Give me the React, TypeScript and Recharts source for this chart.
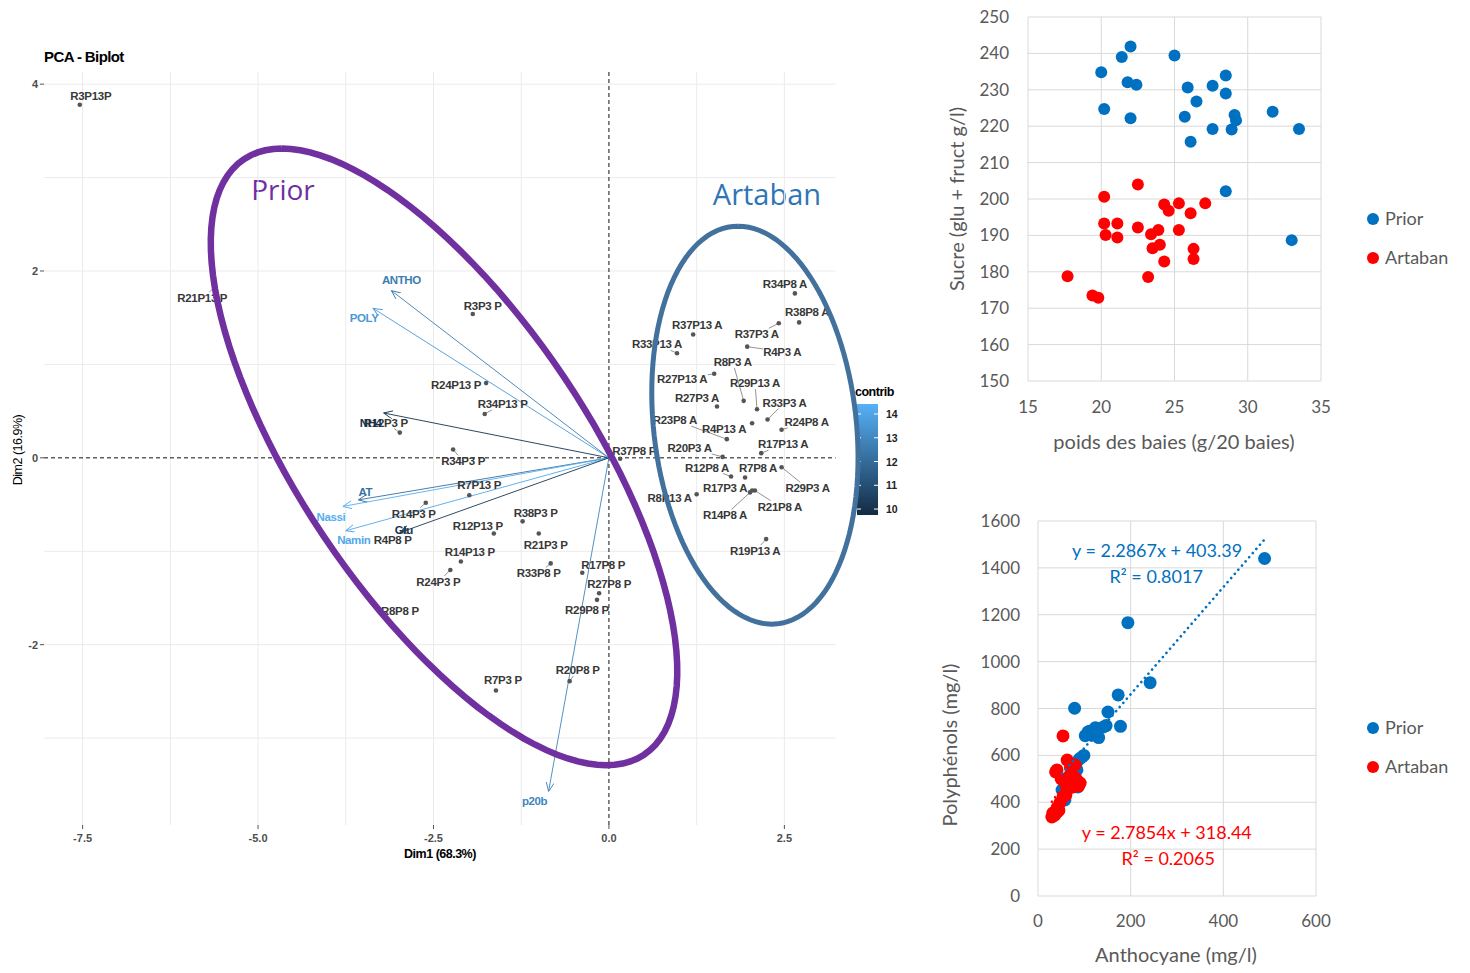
import {
  Legend,
  CartesianGrid,
  ReferenceDot,
  ReferenceLine,
  Scatter,
  ScatterChart,
  XAxis,
  YAxis,
} from 'recharts'

// ---------- PCA biplot ----------
const priorNames = [
  'R3P13P', 'R21P13 P', 'R3P3 P', 'R24P13 P', 'R34P13 P', 'R12P3 P', 'R34P3 P', 'R37P8 P',
  'R7P13 P', 'R14P3 P', 'R38P3 P', 'R12P13 P', 'R21P3 P', 'R4P8 P', 'R14P13 P', 'R24P3 P',
  'R33P8 P', 'R17P8 P', 'R27P8 P', 'R29P8 P', 'R8P8 P', 'R7P3 P', 'R20P8 P',
]
const priorDim1 = [
  -7.54, -5.61, -1.94, -1.75, -1.77, -2.98, -2.22, 0.16, -1.99, -2.61, -1.23, -1.64, -1.0, -2.91,
  -2.11, -2.26, -0.83, -0.38, -0.14, -0.17, -3.15, -1.61, -0.56,
]
const priorDim2 = [
  3.78, 1.83, 1.54, 0.8, 0.47, 0.27, 0.09, -0.01, -0.4, -0.48, -0.68, -0.81, -0.81, -0.77, -1.11,
  -1.2, -1.13, -1.23, -1.45, -1.52, -1.73, -2.49, -2.39,
]

const artabanNames = [
  'R34P8 A', 'R38P8 A', 'R37P3 A', 'R37P13 A', 'R33P13 A', 'R4P3 A', 'R8P3 A', 'R27P13 A',
  'R29P13 A', 'R27P3 A', 'R33P3 A', 'R23P8 A', 'R4P13 A', 'R24P8 A', 'R20P3 A', 'R17P13 A',
  'R12P8 A', 'R7P8 A', 'R17P3 A', 'R8P13 A', 'R29P3 A', 'R21P8 A', 'R14P8 A', 'R19P13 A',
]
const artabanDim1 = [
  2.65, 2.71, 2.42, 1.2, 0.97, 1.97, 1.92, 1.5, 2.11, 1.54, 2.26, 1.68, 2.04, 2.46, 1.62, 2.17,
  1.74, 1.94, 2.04, 1.25, 2.46, 2.08, 2.01, 2.24,
]
const artabanDim2 = [
  1.76, 1.45, 1.44, 1.32, 1.12, 1.19, 0.61, 0.9, 0.52, 0.55, 0.41, 0.2, 0.37, 0.3, 0.01, 0.05,
  -0.2, -0.21, -0.35, -0.39, -0.1, -0.35, -0.37, -0.87,
]

const varNames = ['ANTHO', 'POLY', 'NH4', 'AT', 'Nassi', 'Namin', 'Glu', 'p20b']
const varDim1 = [-3.1, -3.36, -3.21, -3.57, -3.79, -3.75, -2.98, -0.86]
const varDim2 = [1.79, 1.6, 0.48, -0.45, -0.52, -0.78, -0.8, -3.57]
const varContrib = [12.6, 13.6, 10.0, 12.2, 14.3, 14.1, 10.2, 12.9]

const dim1Ticks = [-7.5, -5, -2.5, 0, 2.5]
const dim2Ticks = [-2, 0, 2, 4]
const dim1Grid = [-7.5, -6.25, -5, -3.75, -2.5, -1.25, 1.25, 2.5]
const dim2Grid = [-3, -2, -1, 1, 2, 3, 4]
const contribTicks = [10, 11, 12, 13, 14]

// group ellipses: centre plus two conjugate half-axes, in Dim units
const priorEllipse = { cx: -2.35, cy: 0.01, ux: -2.31, uy: 3.3, vx: 2.39, vy: 0 }
const artabanEllipse = { cx: 2.08, cy: 0.35, ux: -0.24, uy: 2.13, vx: 1.45, vy: 0 }

// ---------- sucre vs poids ----------
const priorPoids = [
  20.0, 20.2, 21.4, 22.0, 21.8, 22.4, 22.0, 25.0, 25.9, 25.7, 26.5, 26.1, 27.6, 27.6, 28.5, 28.5,
  29.1, 29.2, 28.9, 31.7, 33.5, 28.5, 33.0,
]
const priorSucre = [
  234.8, 224.7, 239.0, 241.9, 232.1, 231.4, 222.2, 239.4, 230.6, 222.6, 226.8, 215.7, 231.1, 219.2,
  233.9, 229.0, 223.1, 221.6, 219.1, 224.0, 219.2, 202.1, 188.7,
]
const artabanPoids = [
  17.7, 19.4, 19.8, 20.2, 20.2, 20.3, 21.1, 21.1, 22.5, 22.5, 23.2, 23.4, 23.9, 23.5, 24.0, 24.3,
  24.3, 24.6, 25.3, 25.3, 26.1, 26.3, 26.3, 27.1,
]
const artabanSucre = [
  178.8, 173.5, 172.9, 200.6, 193.3, 190.1, 193.3, 189.4, 204.0, 192.2, 178.6, 190.3, 191.5, 186.5,
  187.4, 182.8, 198.5, 196.8, 198.8, 191.5, 196.1, 186.3, 183.5, 198.8,
]
const poidsTicks = [15, 20, 25, 30, 35]
const sucreTicks = [150, 160, 170, 180, 190, 200, 210, 220, 230, 240, 250]

// ---------- polyphénols vs anthocyanes ----------
const priorAntho = [
  489, 194, 242, 173, 151, 178, 79, 147, 102, 111, 124, 131, 117, 141, 99, 90, 84, 84, 86, 52, 58,
  95, 108,
]
const priorPoly = [
  1440, 1166, 910, 858, 785, 724, 801, 727, 684, 703, 718, 676, 686, 721, 600, 586, 572, 538, 465,
  452, 410, 593, 700,
]
const artabanAntho = [
  54, 63, 41, 80, 69, 84, 58, 76, 91, 63, 54, 47, 41, 32, 30, 45, 38, 50, 70, 88, 60, 36, 42, 80,
]
const artabanPoly = [
  683, 580, 538, 559, 516, 495, 486, 465, 482, 452, 422, 397, 376, 354, 337, 365, 530, 500, 548,
  470, 430, 345, 360, 505,
]
const anthoTicks = [0, 200, 400, 600]
const polyTicks = [0, 200, 400, 600, 800, 1000, 1200, 1400, 1600]
const priorFit = { slope: 2.2867, intercept: 403.39, r2: 0.8017 }
const artabanFit = { slope: 2.7854, intercept: 318.44, r2: 0.2065 }

// ---------- styling ----------
const ggFont = '"Liberation Sans", Arial, sans-serif'
const officeFont = 'Lato, "Open Sans", sans-serif'
const PRIOR_BLUE = '#0070C0'
const ARTABAN_RED = '#FF0000'
const OFFICE_GREY = '#595959'
const DIM1_MIN = -8.05
const DIM1_MAX = 3.72
const GRID_X_MAX = 3.23
const DIM2_MIN = -3.93
const DIM2_MAX = 4.13
const CONTRIB_MIN = 9.75
const CONTRIB_MAX = 14.42

// label nudges (px) relative to each point
const labelNudge: Record<string, [number, number]> = {
  R3P13P: [11, -9], 'R21P13 P': [-13, 11], 'R3P3 P': [10, -8], 'R24P13 P': [-30, 2],
  'R34P13 P': [18, -10], 'R12P3 P': [-14, -10], 'R34P3 P': [10, 12], 'R37P8 P': [14, -8],
  'R7P13 P': [10, -10], 'R14P3 P': [-12, 11], 'R38P3 P': [13, -8], 'R12P13 P': [-16, -8],
  'R21P3 P': [7, 11], 'R4P8 P': [-12, 10], 'R14P13 P': [9, -10], 'R24P3 P': [-12, 12],
  'R33P8 P': [-12, 10], 'R17P8 P': [21, -8], 'R27P8 P': [10, -9], 'R29P8 P': [-10, 10],
  'R8P8 P': [12, -8], 'R7P3 P': [7, -10], 'R20P8 P': [8, -11],
  'R34P8 A': [-10, -9], 'R38P8 A': [8, -10], 'R37P3 A': [-22, 11], 'R37P13 A': [4, -10],
  'R33P13 A': [-20, -9], 'R4P3 A': [35, 5], 'R8P3 A': [-11, -39], 'R27P13 A': [-32, 5],
  'R29P13 A': [-2, -26], 'R27P3 A': [-20, -8], 'R33P3 A': [17, -17], 'R23P8 A': [-52, -19],
  'R4P13 A': [-28, 6], 'R24P8 A': [25, -8], 'R20P3 A': [-33, -9], 'R17P13 A': [22, -9],
  'R12P8 A': [-24, -9], 'R7P8 A': [13, -9], 'R17P3 A': [-27, -3], 'R8P13 A': [-27, 4],
  'R29P3 A': [26, 21], 'R21P8 A': [25, 16], 'R14P8 A': [-25, 23], 'R19P13 A': [-11, 12],
  ANTHO: [10, -11], POLY: [-9, 10], NH4: [-13, 10], AT: [7, -8], Nassi: [-12, 11],
  Namin: [8, 9], Glu: [4, -3], p20b: [-14, 10],
}

const LOW = [19, 43, 67]
const HIGH = [86, 177, 247]
function contribColor(v: number) {
  const t = Math.min(1, Math.max(0, (v - CONTRIB_MIN) / (CONTRIB_MAX - CONTRIB_MIN)))
  const c = LOW.map((l, i) => Math.round(l + (HIGH[i] - l) * t))
  return `rgb(${c[0]},${c[1]},${c[2]})`
}

function ellipsePoints(e: typeof priorEllipse, steps = 120) {
  const pts = []
  for (let i = 0; i <= steps; i++) {
    const t = (i / steps) * Math.PI * 2
    pts.push({ x: e.cx + e.ux * Math.cos(t) + e.vx * Math.sin(t), y: e.cy + e.uy * Math.cos(t) + e.vy * Math.sin(t) })
  }
  return pts
}

function individual(p: any) {
  const { cx, cy, payload } = p
  const [dx, dy] = labelNudge[payload.name] ?? [0, -10]
  const hw = payload.name.length * 3.2
  const hh = 6
  const t = Math.min(1, hw / Math.max(Math.abs(dx), 0.01), hh / Math.max(Math.abs(dy), 0.01))
  const ex = cx + dx - dx * t
  const ey = cy + dy - dy * t
  const showLink = Math.hypot(ex - cx, ey - cy) > 6
  return (
    <g>
      {showLink && <line x1={cx} y1={cy} x2={ex} y2={ey} stroke="#777" strokeWidth={0.8} />}
      <circle cx={cx} cy={cy} r={2.3} fill="#555" />
      <text
        x={cx + dx}
        y={cy + dy}
        textAnchor="middle"
        dominantBaseline="central"
        fontFamily={ggFont}
        fontSize={11.5}
        fontWeight="bold"
        letterSpacing={-0.3}
        fill="#383838"
      >
        {payload.name}
      </text>
    </g>
  )
}

function variableLabel(p: any) {
  const { cx, cy, payload } = p
  const [dx, dy] = labelNudge[payload.name] ?? [0, -10]
  return (
    <text
      x={cx + dx}
      y={cy + dy}
      textAnchor="middle"
      dominantBaseline="central"
      fontFamily={ggFont}
      fontSize={11.5}
      fontWeight="bold"
      letterSpacing={-0.4}
      fill={payload.color}
    >
      {payload.name}
    </text>
  )
}

const noShape = () => <g />

function Biplot() {
  const prior = priorNames.map((name, i) => ({ name, x: priorDim1[i], y: priorDim2[i] }))
  const artaban = artabanNames.map((name, i) => ({ name, x: artabanDim1[i], y: artabanDim2[i] }))
  const vars = varNames.map((name, i) => ({
    name,
    x: varDim1[i],
    y: varDim2[i],
    color: contribColor(varContrib[i]),
  }))
  const tickStyle = { fontSize: 11, fontFamily: ggFont, fontWeight: 'bold', fill: '#4D4D4D' }

  return (
    <ScatterChart width={900} height={880} margin={{ top: 72, right: 30, bottom: 0, left: 0 }}>
      <defs>
        {vars.map((v) => (
          <marker
            key={v.name}
            id={`arrow-${v.name}`}
            markerWidth={11}
            markerHeight={9}
            refX={9}
            refY={4}
            orient="auto"
            markerUnits="userSpaceOnUse"
          >
            <path d="M0,0 L9,4 L0,8" fill="none" stroke={v.color} strokeWidth={0.9} />
          </marker>
        ))}
        <linearGradient id="contribBar" x1="0" y1="1" x2="0" y2="0">
          <stop offset="0" stopColor={contribColor(CONTRIB_MIN)} />
          <stop offset="1" stopColor={contribColor(CONTRIB_MAX)} />
        </linearGradient>
      </defs>
      <XAxis
        type="number"
        dataKey="x"
        domain={[DIM1_MIN, DIM1_MAX]}
        ticks={dim1Ticks}
        tickFormatter={(v: number) => v.toFixed(1)}
        height={55}
        axisLine={false}
        tickSize={4}
        tickMargin={5}
        tickLine={{ stroke: '#555' }}
        tick={tickStyle}
      />
      <YAxis
        type="number"
        dataKey="y"
        domain={[DIM2_MIN, DIM2_MAX]}
        ticks={dim2Ticks}
        width={44}
        axisLine={false}
        tickSize={4}
        tickMargin={2}
        tickLine={{ stroke: '#555' }}
        tick={tickStyle}
      />
      {dim1Grid.map((v) => (
        <ReferenceLine
          key={`gx${v}`}
          segment={[{ x: v, y: DIM2_MIN }, { x: v, y: DIM2_MAX }]}
          stroke="#EBEBEB"
          ifOverflow="visible"
        />
      ))}
      {dim2Grid.map((v) => (
        <ReferenceLine
          key={`gy${v}`}
          segment={[{ x: DIM1_MIN, y: v }, { x: GRID_X_MAX, y: v }]}
          stroke="#EBEBEB"
          ifOverflow="visible"
        />
      ))}
      <ReferenceLine
        segment={[{ x: DIM1_MIN, y: 0 }, { x: GRID_X_MAX, y: 0 }]}
        stroke="#111"
        strokeDasharray="4 3"
        ifOverflow="visible"
      />
      <ReferenceLine
        segment={[{ x: 0, y: DIM2_MIN }, { x: 0, y: DIM2_MAX }]}
        stroke="#111"
        strokeDasharray="4 3"
        ifOverflow="visible"
      />
      {vars.map((v) => (
        <ReferenceLine
          key={`arrow${v.name}`}
          segment={[{ x: 0, y: 0 }, { x: v.x, y: v.y }]}
          stroke={v.color}
          strokeWidth={0.9}
          markerEnd={`url(#arrow-${v.name})`}
          ifOverflow="visible"
        />
      ))}
      <Scatter name="Prior" data={prior} shape={individual} isAnimationActive={false} />
      <Scatter name="Artaban" data={artaban} shape={individual} isAnimationActive={false} />
      <Scatter name="variables" data={vars} shape={variableLabel} isAnimationActive={false} />
      <Scatter
        name="ellipse Prior"
        data={ellipsePoints(priorEllipse)}
        shape={noShape}
        line={{ stroke: '#7030A0', strokeWidth: 6.5 }}
        isAnimationActive={false}
      />
      <Scatter
        name="ellipse Artaban"
        data={ellipsePoints(artabanEllipse)}
        shape={noShape}
        line={{ stroke: '#41719C', strokeWidth: 5 }}
        isAnimationActive={false}
      />

      <text x={44} y={62} fontFamily={ggFont} fontSize={15} fontWeight="bold" letterSpacing={-0.6} fill="#000">
        PCA - Biplot
      </text>
      <text x={440} y={858} textAnchor="middle" fontFamily={ggFont} fontSize={12.5} fontWeight="bold" letterSpacing={-0.5} fill="#000">
        Dim1 (68.3%)
      </text>
      <text
        x={22}
        y={450}
        transform="rotate(-90 22 450)"
        textAnchor="middle"
        fontFamily={ggFont}
        fontSize={12.5}
        letterSpacing={-0.5}
        fill="#000"
      >
        Dim2 (16.9%)
      </text>
      <text x={283} y={200} textAnchor="middle" fontFamily='"Open Sans", sans-serif' fontSize={28} fill="#7030A0">
        Prior
      </text>
      <text x={767} y={205} textAnchor="middle" fontFamily='"Open Sans", sans-serif' fontSize={29} fill="#2E75B6">
        Artaban
      </text>

      <g>
        <text x={855} y={396} fontFamily={ggFont} fontSize={12.5} fontWeight="bold" letterSpacing={-0.5} fill="#000">
          contrib
        </text>
        <rect x={857} y={404} width={21} height={111} fill="url(#contribBar)" />
        {contribTicks.map((v) => {
          const y = 515 - ((v - CONTRIB_MIN) / (CONTRIB_MAX - CONTRIB_MIN)) * 111
          return (
            <g key={v}>
              <line x1={857} x2={861} y1={y} y2={y} stroke="#fff" />
              <line x1={874} x2={878} y1={y} y2={y} stroke="#fff" />
              <text x={886} y={y} dominantBaseline="central" fontFamily={ggFont} fontSize={10.5} fontWeight="bold" fill="#222">
                {v}
              </text>
            </g>
          )
        })}
      </g>
    </ScatterChart>
  )
}

// ---------- Excel style scatters ----------
const dot = (fill: string, r: number) => (p: any) => <circle cx={p.cx} cy={p.cy} r={r} fill={fill} />

const seriesLegend = () => (
  <div style={{ fontFamily: officeFont, fontSize: 18, color: OFFICE_GREY, lineHeight: '39px' }}>
    {[
      ['Prior', PRIOR_BLUE],
      ['Artaban', ARTABAN_RED],
    ].map(([label, color]) => (
      <div key={label} style={{ display: 'flex', alignItems: 'center' }}>
        <span
          style={{ width: 12, height: 12, borderRadius: 6, background: color, marginRight: 6, display: 'inline-block' }}
        />
        {label}
      </div>
    ))}
  </div>
)

const officeTick = { fill: OFFICE_GREY, fontSize: 17, fontFamily: officeFont }

// both office charts start 20px left of their y-axis titles
function SucreChart() {
  const prior = priorPoids.map((x, i) => ({ x, y: priorSucre[i] }))
  const artaban = artabanPoids.map((x, i) => ({ x, y: artabanSucre[i] }))
  return (
    <ScatterChart width={550} height={470} margin={{ top: 17, right: 149, bottom: 0, left: 0 }}>
      <CartesianGrid stroke="#D9D9D9" />
      <XAxis
        type="number"
        dataKey="x"
        domain={[15, 35]}
        ticks={poidsTicks}
        height={89}
        axisLine={false}
        tickLine={false}
        tickMargin={14}
        tick={officeTick}
      />
      <YAxis
        type="number"
        dataKey="y"
        domain={[150, 250]}
        ticks={sucreTicks}
        width={108}
        axisLine={false}
        tickLine={false}
        tickMargin={13}
        tick={officeTick}
      />
      <Scatter name="Prior" data={prior} fill={PRIOR_BLUE} shape={dot(PRIOR_BLUE, 6)} isAnimationActive={false} />
      <Scatter name="Artaban" data={artaban} fill={ARTABAN_RED} shape={dot(ARTABAN_RED, 6)} isAnimationActive={false} />
      <Legend
        layout="vertical"
        align="center"
        verticalAlign="middle"
        wrapperStyle={{ left: 447, top: 199, width: 110 }}
        content={seriesLegend}
      />
      <text x={254} y={449} textAnchor="middle" fontFamily={officeFont} fontSize={20} fill={OFFICE_GREY}>
        poids des baies (g/20 baies)
      </text>
      <text
        x={44}
        y={199}
        transform="rotate(-90 44 199)"
        textAnchor="middle"
        fontFamily={officeFont}
        fontSize={20}
        fill={OFFICE_GREY}
      >
        Sucre (glu + fruct g/l)
      </text>
    </ScatterChart>
  )
}

function fitLine(fit: typeof priorFit, xs: number[]) {
  return [Math.min(...xs), Math.max(...xs)].map((x) => ({ x, y: fit.slope * x + fit.intercept }))
}

function PolyChart() {
  const prior = priorAntho.map((x, i) => ({ x, y: priorPoly[i] }))
  const artaban = artabanAntho.map((x, i) => ({ x, y: artabanPoly[i] }))
  const eqStyle = { fontFamily: officeFont, fontSize: 18 }
  return (
    <ScatterChart width={550} height={473} margin={{ top: 21, right: 154, bottom: 0, left: 0 }}>
      <CartesianGrid stroke="#D9D9D9" />
      <XAxis
        type="number"
        dataKey="x"
        domain={[0, 600]}
        ticks={anthoTicks}
        height={77}
        axisLine={false}
        tickLine={false}
        tickMargin={13}
        tick={officeTick}
      />
      <YAxis
        type="number"
        dataKey="y"
        domain={[0, 1600]}
        ticks={polyTicks}
        width={118}
        axisLine={false}
        tickLine={false}
        tickMargin={12}
        tick={officeTick}
      />
      <Scatter name="Prior" data={prior} fill={PRIOR_BLUE} shape={dot(PRIOR_BLUE, 6.5)} isAnimationActive={false} />
      <Scatter name="Artaban" data={artaban} fill={ARTABAN_RED} shape={dot(ARTABAN_RED, 6.5)} isAnimationActive={false} />
      <Scatter
        name="tendance Prior"
        data={fitLine(priorFit, priorAntho)}
        shape={noShape}
        line={{ stroke: PRIOR_BLUE, strokeWidth: 2.6, strokeDasharray: '0.1 5.4', strokeLinecap: 'round' }}
        legendType="none"
        isAnimationActive={false}
      />
      <Scatter
        name="tendance Artaban"
        data={fitLine(artabanFit, artabanAntho)}
        shape={noShape}
        line={{ stroke: ARTABAN_RED, strokeWidth: 2.6, strokeDasharray: '0.1 5.4', strokeLinecap: 'round' }}
        legendType="none"
        isAnimationActive={false}
      />
      <ReferenceDot
        x={257}
        y={1472}
        r={0}
        stroke="none"
        label={{ value: `y = ${priorFit.slope}x + ${priorFit.intercept}`, position: 'center', fill: PRIOR_BLUE, ...eqStyle }}
      />
      <ReferenceDot
        x={255}
        y={1361}
        r={0}
        stroke="none"
        label={{ value: `R² = ${priorFit.r2}`, position: 'center', fill: PRIOR_BLUE, ...eqStyle }}
      />
      <ReferenceDot
        x={278}
        y={269}
        r={0}
        stroke="none"
        label={{ value: `y = ${artabanFit.slope}x + ${artabanFit.intercept}`, position: 'center', fill: ARTABAN_RED, ...eqStyle }}
      />
      <ReferenceDot
        x={281}
        y={158}
        r={0}
        stroke="none"
        label={{ value: `R² = ${artabanFit.r2}`, position: 'center', fill: ARTABAN_RED, ...eqStyle }}
      />
      <Legend
        layout="vertical"
        align="center"
        verticalAlign="middle"
        wrapperStyle={{ left: 447, top: 208, width: 110 }}
        content={seriesLegend}
      />
      <text x={256} y={462} textAnchor="middle" fontFamily={officeFont} fontSize={20} fill={OFFICE_GREY}>
        Anthocyane (mg/l)
      </text>
      <text
        x={37}
        y={245}
        transform="rotate(-90 37 245)"
        textAnchor="middle"
        fontFamily={officeFont}
        fontSize={20}
        fill={OFFICE_GREY}
      >
        Polyphénols (mg/l)
      </text>
    </ScatterChart>
  )
}

export default function App() {
  return (
    <div style={{ position: 'absolute', left: 0, top: 0, width: 1470, height: 973, background: '#fff' }}>
      <div style={{ position: 'absolute', left: 0, top: 0 }}>
        <Biplot />
      </div>
      <div style={{ position: 'absolute', left: 920, top: 0 }}>
        <SucreChart />
      </div>
      <div style={{ position: 'absolute', left: 920, top: 500 }}>
        <PolyChart />
      </div>
    </div>
  )
}
